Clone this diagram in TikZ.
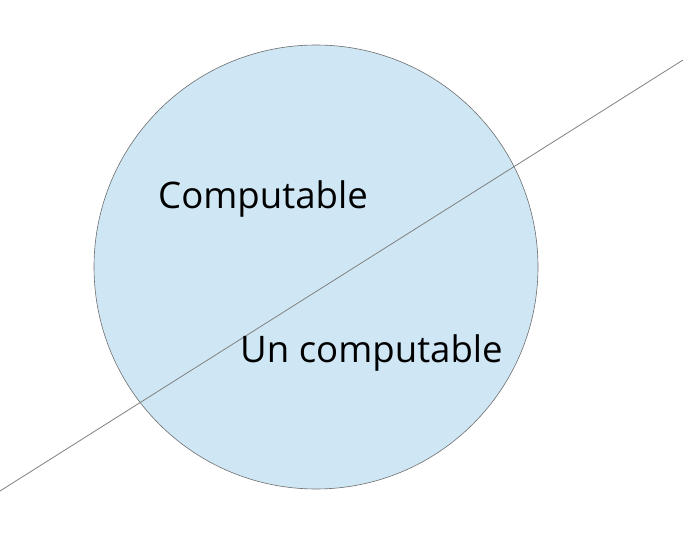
\documentclass[tikz,border=0pt]{standalone}
\usepackage{fontspec}
\setmainfont{Open Sans}
\definecolor{circfill}{HTML}{CFE7F5}
\definecolor{circline}{HTML}{6E6E6E}
\definecolor{cutline}{HTML}{808080}
\begin{document}
\begin{tikzpicture}[x=1pt,y=-1pt,
  lbl/.style={font=\fontsize{36.6}{42}\selectfont, anchor=base west, inner sep=0pt}]
\useasboundingbox (0,0) rectangle (683,540);
\node[circle, draw=circline, line width=0.6pt, fill=circfill, minimum size=444pt, inner sep=0pt] (disc) at (316,267) {};
\coordinate (a) at (0,491);
\coordinate (b) at (683,60);
\draw[cutline, line width=0.8pt] (a) -- (b);
\node[lbl] (comp) at (158,209) {Computable};
\node[lbl] (uncomp) at (240,362) {Un computable};
\end{tikzpicture}
\end{document}
